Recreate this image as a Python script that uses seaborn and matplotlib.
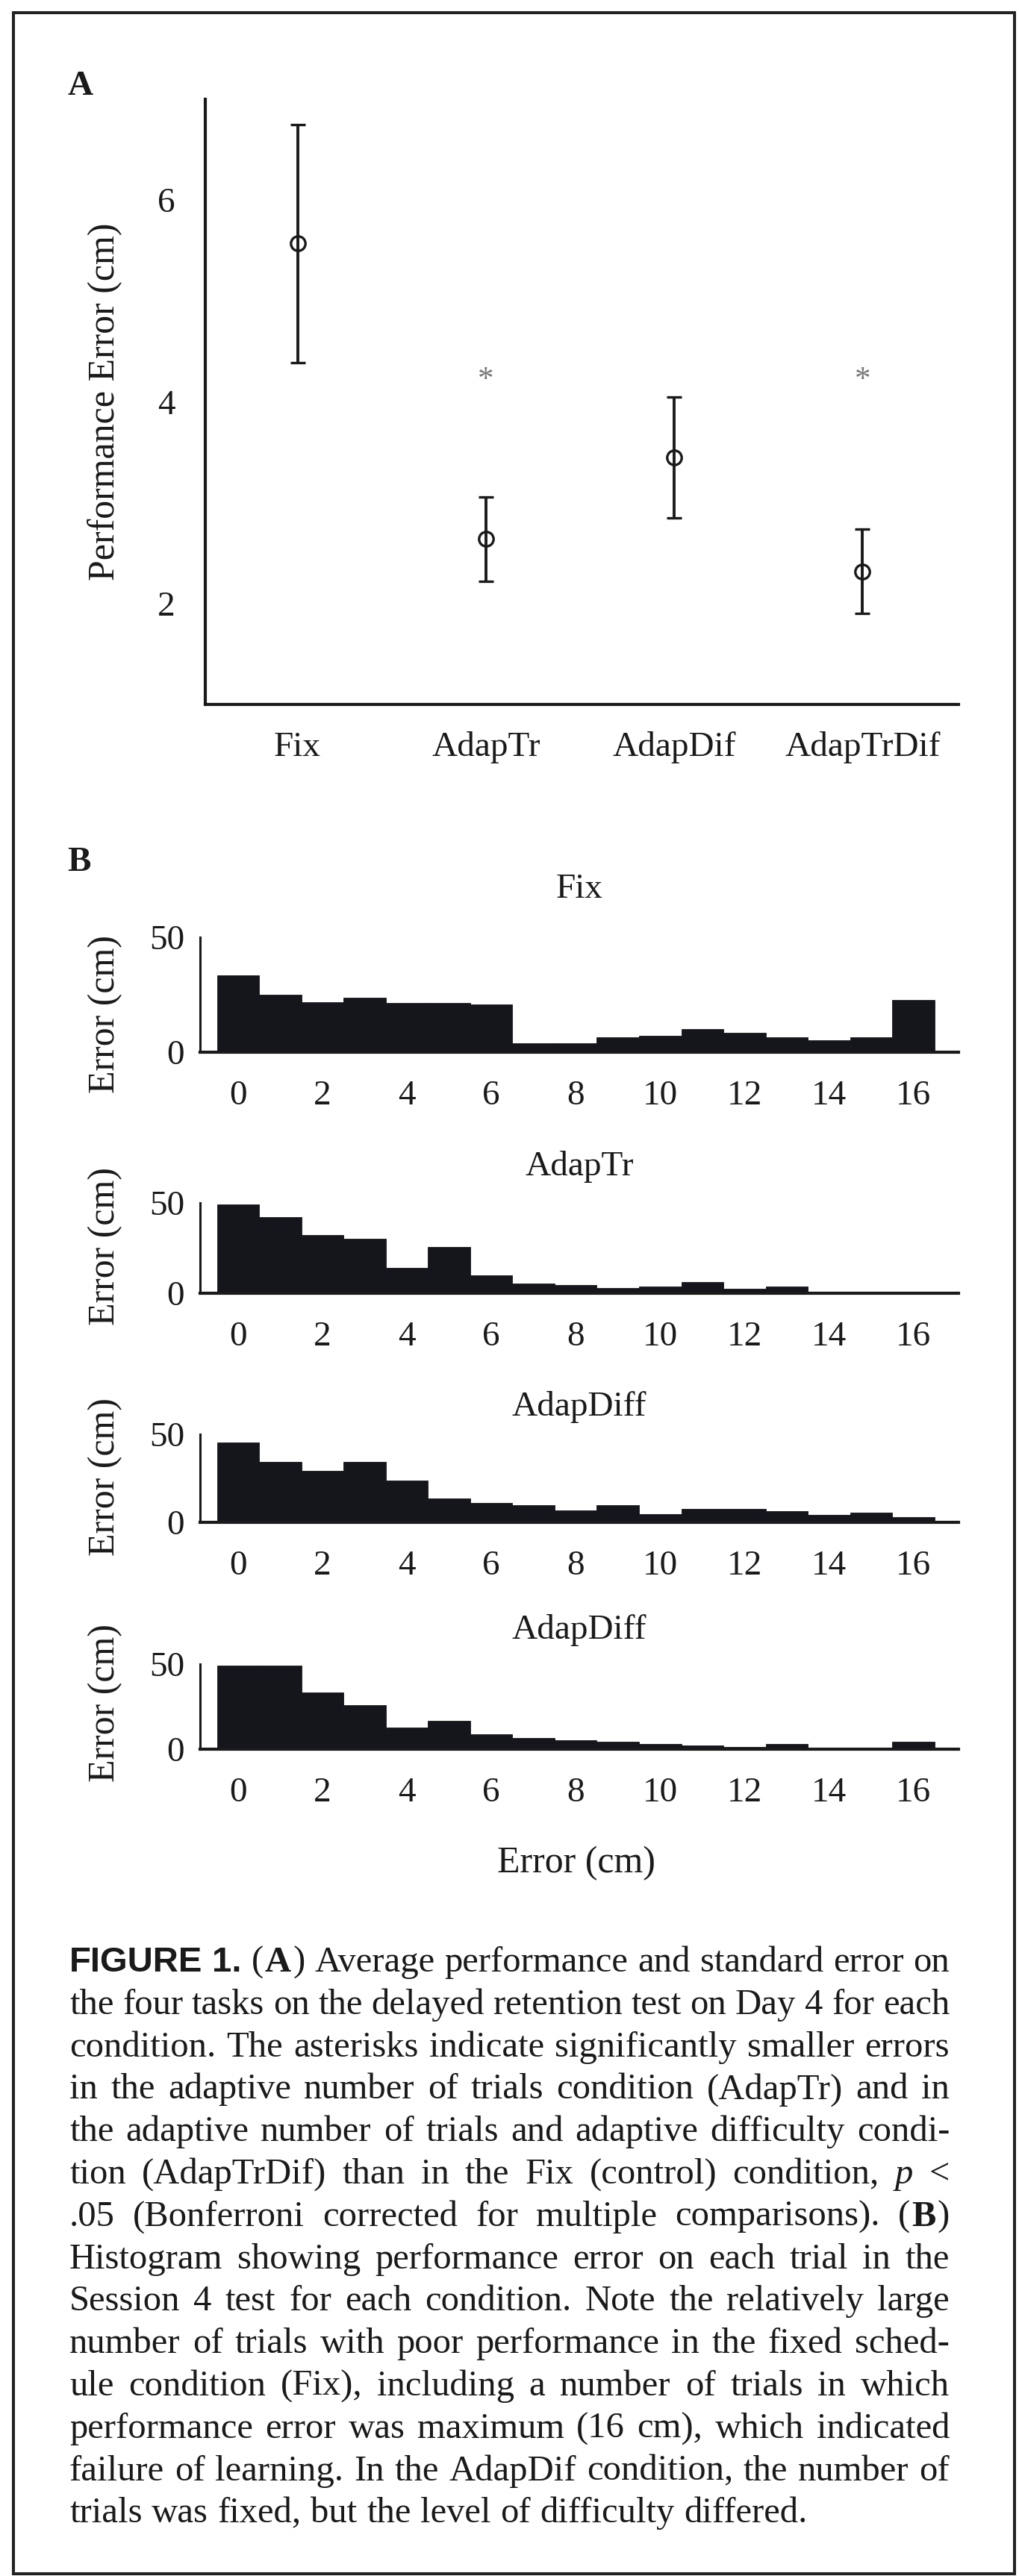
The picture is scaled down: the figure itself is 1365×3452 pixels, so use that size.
import re
import matplotlib
matplotlib.use('Agg')
import matplotlib.pyplot as plt
import seaborn as sns
from matplotlib.patches import Rectangle
from matplotlib.transforms import IdentityTransform


# Panel A: mean performance error (cm) and standard error per condition
conditions = ['Fix', 'AdapTr', 'AdapDif', 'AdapTrDif']
mean_error = [5.57, 2.64, 3.45, 2.32]
se_error = [1.18, 0.42, 0.60, 0.42]
significant = [False, True, False, True]
star_y = 4.3

# Panel B: histogram heights for each error bin (0..16 cm)
error_bins = list(range(17))
hist_titles = ['Fix', 'AdapTr', 'AdapDiff', 'AdapDiff']
hist_fix = [33.3, 25.0, 21.9, 23.8, 21.4, 21.4, 20.7, 4.0, 4.0, 6.4, 7.1, 10.2, 8.3, 6.4, 5.2, 6.4, 22.6]
hist_adaptr = [49.1, 42.1, 32.4, 30.3, 14.2, 25.5, 10.0, 5.2, 4.5, 2.7, 3.6, 6.1, 2.4, 3.6, 0.6, 0.0, 0.9]
hist_adapdiff = [45.3, 34.4, 29.1, 34.4, 23.8, 13.4, 10.9, 9.7, 6.6, 9.7, 4.7, 7.8, 7.8, 6.3, 4.1, 5.6, 3.1]
hist_adaptrdiff = [49.0, 49.0, 33.5, 25.8, 12.6, 16.8, 8.7, 6.5, 5.2, 4.2, 3.2, 2.3, 1.3, 3.2, 0.6, 0.6, 4.5]
hist_values = [hist_fix, hist_adaptr, hist_adapdiff, hist_adaptrdiff]
hist_ticks = list(range(0, 17, 2))

caption_lines = [
    "<F>FIGURE</F> <F>1.</F> (<B>A</B>) Average performance and standard error on",
    "the four tasks on the delayed retention test on Day 4 for each",
    "condition. The asterisks indicate significantly smaller errors",
    "in the adaptive number of trials condition (AdapTr) and in",
    "the adaptive number of trials and adaptive difficulty condi-",
    "tion (AdapTrDif) than in the Fix (control) condition, <I>p</I> <",
    ".05 (Bonferroni corrected for multiple comparisons). (<B>B</B>)",
    "Histogram showing performance error on each trial in the",
    "Session 4 test for each condition. Note the relatively large",
    "number of trials with poor performance in the fixed sched-",
    "ule condition (Fix), including a number of trials in which",
    "performance error was maximum (16 cm), which indicated",
    "failure of learning. In the AdapDif condition, the number of",
    "trials was fixed, but the level of difficulty differed.",
]

W, H = 1365, 3452
INK = '#1a1a1a'
BAR = '#15151c'
SERIF = 'Liberation Serif'
SANS = 'Liberation Sans'

sns.set_theme(style='white')
plt.rcParams['font.family'] = [SERIF, 'DejaVu Serif']
plt.rcParams['text.color'] = INK
plt.rcParams['axes.labelcolor'] = INK
plt.rcParams['xtick.color'] = INK
plt.rcParams['ytick.color'] = INK


def box(left, top, right, bottom):
    # pixel box (top-down) -> figure fraction rect
    return [left / W, 1 - bottom / H, (right - left) / W, (bottom - top) / H]


fig = plt.figure(figsize=(W / 100, H / 100), dpi=100)

# ---------------- Panel A ----------------
a_left, a_top, a_right, a_bottom = 275, 133, 1284, 944
ax_a = fig.add_axes(box(a_left, a_top, a_right, a_bottom))
xpos = list(range(len(conditions)))
ax_a.errorbar(xpos, mean_error, yerr=se_error, fmt='o', mfc='none', mec=INK, ms=14, mew=2.4,
              color=INK, ecolor=INK, elinewidth=2.8, capsize=7.5, capthick=2.8)
for i, sig in enumerate(significant):
    if sig:
        ax_a.annotate('*', (i, star_y), xytext=(0, -16), textcoords='offset points',
                      ha='center', va='baseline', fontsize=31, color='#777777')
ax_a.set_xlim(-0.49, 3.51)
ax_a.set_ylim(1, 7)
ax_a.set_xticks(xpos)
ax_a.set_xticklabels(conditions)
ax_a.set_yticks([2, 3, 4, 5, 6])
ax_a.set_yticklabels(['2', '', '4', '', '6'])
ax_a.tick_params(direction='in', length=10, width=2.8, labelsize=34)
ax_a.tick_params(axis='y', pad=29)
ax_a.tick_params(axis='x', pad=26)
sns.despine(ax=ax_a)
for s in ['left', 'bottom']:
    ax_a.spines[s].set_linewidth(3.0)
    ax_a.spines[s].set_color(INK)
ax_a.set_ylabel('Performance Error (cm)', fontsize=36, va='center')
ax_a.yaxis.set_label_coords((141 - a_left) / (a_right - a_left), 0.5)

fig.text(108 / W, 1 - 116 / H, 'A', fontsize=34, weight='bold', ha='center', va='center')
fig.text(106 / W, 1 - 1156 / H, 'B', fontsize=34, weight='bold', ha='center', va='center')

# ---------------- Panel B ----------------
h_left, h_right = 268, 1284
h_tops = [1256, 1612, 1922, 2230]
h_bottoms = [1410, 1733, 2040, 2344]
title_ys = [1192, 1563, 1885, 2184]
label_ys = [1359, 1670, 1979, 2282]

for title, vals, top, bottom, ty, ly in zip(hist_titles, hist_values, h_tops, h_bottoms,
                                             title_ys, label_ys):
    ax = fig.add_axes(box(h_left, top, h_right, bottom))
    sns.barplot(x=error_bins, y=vals, native_scale=True, width=1, color=BAR,
                saturation=1, errorbar=None, linewidth=0.6, edgecolor=BAR, ax=ax)
    ax.set_xlim(-0.9, 17.07)
    ax.set_ylim(0, 50)
    ax.set_xticks(hist_ticks)
    ax.set_xticklabels([str(t) for t in hist_ticks])
    ax.set_yticks([0, 50])
    ax.set_yticklabels(['0', '50'])
    ax.tick_params(length=0, labelsize=34)
    ax.tick_params(axis='x', pad=27)
    ax.tick_params(axis='y', pad=15)
    sns.despine(ax=ax)
    ax.spines['bottom'].set_linewidth(3.0)
    ax.spines['left'].set_linewidth(2.2)
    for s in ['left', 'bottom']:
        ax.spines[s].set_color(INK)
    ax.set_xlabel('')
    ax.set_title(title, fontsize=34, y=(bottom - ty) / (bottom - top), va='center', pad=0)
    ax.set_ylabel('Error (cm)', fontsize=36, va='center')
    ax.yaxis.set_label_coords((141 - h_left) / (h_right - h_left),
                              (bottom - ly) / (bottom - top))

fig.text(772 / W, 1 - 2497 / H, 'Error (cm)', fontsize=36, ha='center', va='center')

# ---------------- Caption (justified) ----------------
styles = {
    'R': dict(family=[SERIF, 'DejaVu Serif']),
    'B': dict(family=[SERIF, 'DejaVu Serif'], weight='bold'),
    'I': dict(family=[SERIF, 'DejaVu Serif'], style='italic'),
    'F': dict(family=[SANS, 'DejaVu Sans'], weight='bold'),
}


def segments(word):
    out = []
    for p in re.split(r'(<[FBI]>.*?</[FBI]>)', word):
        if not p:
            continue
        m = re.fullmatch(r'<([FBI])>(.*?)</[FBI]>', p)
        if m:
            out.append((m.group(2), m.group(1)))
        else:
            out.append((p, 'R'))
    return out


cap_left, cap_right = 93, 1272
cap_base0, cap_step = 2642, 56.8
seg_gap = 2
renderer = fig.canvas.get_renderer()


def build_caption(size):
    lines = []
    for i, line in enumerate(caption_lines):
        y = H - (cap_base0 + i * cap_step)
        items = []
        for w in line.split(' '):
            segs = []
            for s, st in segments(w):
                fs = size - 1 if st == 'F' else size
                t = fig.text(0, y, s, transform=IdentityTransform(), fontsize=fs,
                             ha='left', va='baseline', color=INK, **styles[st])
                segs.append((t, t.get_window_extent(renderer).width))
            items.append(segs)
        lines.append(items)
    return lines


cap_size = 35
min_space = 0.2 * cap_size * 100 / 72
while True:
    lines = build_caption(cap_size)
    too_wide = False
    for items in lines:
        widths = [sum(sw for _, sw in segs) + seg_gap * (len(segs) - 1) for segs in items]
        if sum(widths) + min_space * (len(items) - 1) > cap_right - cap_left:
            too_wide = True
    if not too_wide or cap_size <= 28:
        break
    for items in lines:
        for segs in items:
            for t, _ in segs:
                t.remove()
    cap_size -= 0.5

for i, items in enumerate(lines):
    widths = [sum(sw for _, sw in segs) + seg_gap * (len(segs) - 1) for segs in items]
    if i < len(lines) - 1:
        gap = (cap_right - cap_left - sum(widths)) / (len(items) - 1)
    else:
        gap = 0.26 * cap_size * 100 / 72
    x = cap_left
    for segs, wd in zip(items, widths):
        xx = x
        for t, sw in segs:
            t.set_x(xx)
            xx += sw + seg_gap
        x += wd + gap

# outer frame
fig.add_artist(Rectangle((18 / W, 1 - 3449 / H), (1359 - 18) / W, (3449 - 17) / H,
                         transform=fig.transFigure, fill=False, lw=2.9, ec='#222222'))

fig.savefig('out.png', dpi=100)
